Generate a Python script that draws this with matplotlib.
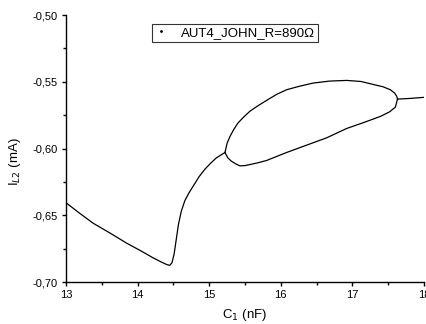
import matplotlib.pyplot as plt
from matplotlib.ticker import MultipleLocator, FuncFormatter

plt.rcParams['font.family'] = ['Liberation Sans', 'DejaVu Sans']

# left branch: 13 nF -> bifurcation at ~15.2 nF
x_left = [13.0, 13.19, 13.38, 13.62, 13.85, 14.04, 14.22, 14.33, 14.41, 14.45, 14.48,
          14.51, 14.54, 14.57, 14.61, 14.66, 14.72, 14.79, 14.86, 14.94, 15.02, 15.10, 15.22]
y_left = [-0.6406, -0.6485, -0.656, -0.6635, -0.671, -0.6765, -0.682, -0.685, -0.687, -0.6875, -0.6855,
          -0.679, -0.668, -0.657, -0.647, -0.639, -0.633, -0.627, -0.621, -0.6155, -0.611, -0.607, -0.603]

# upper branch of the loop
x_up = [15.22, 15.25, 15.29, 15.34, 15.40, 15.48, 15.57, 15.68, 15.80, 15.94, 16.08, 16.25,
        16.45, 16.68, 16.92, 17.12, 17.29, 17.43, 17.53, 17.59, 17.62, 17.63]
y_up = [-0.603, -0.596, -0.591, -0.586, -0.581, -0.5765, -0.572, -0.568, -0.564, -0.5595, -0.556, -0.5535,
        -0.551, -0.5495, -0.549, -0.5498, -0.552, -0.5538, -0.556, -0.5585, -0.561, -0.563]

# lower branch of the loop
x_low = [15.22, 15.26, 15.31, 15.37, 15.43, 15.50, 15.57, 15.68, 15.80, 15.94, 16.08, 16.36,
         16.64, 16.92, 17.16, 17.39, 17.52, 17.60, 17.63]
y_low = [-0.603, -0.607, -0.6095, -0.6115, -0.613, -0.6128, -0.612, -0.6107, -0.609, -0.606, -0.603, -0.5975,
         -0.592, -0.585, -0.5805, -0.576, -0.5725, -0.569, -0.563]

# tail after the loop closes
x_tail = [17.63, 17.80, 17.99]
y_tail = [-0.563, -0.5625, -0.5617]

series_label = "AUT4_JOHN_R=890\u03a9"

fig = plt.figure(figsize=(4.27, 3.24), dpi=100)
ax = fig.add_axes([0.1546, 0.1296, 0.8384, 0.8241])

ax.plot(x_left, y_left, color='black', lw=0.9)
ax.plot(x_up, y_up, color='black', lw=0.9)
ax.plot(x_low, y_low, color='black', lw=0.9)
ax.plot(x_tail, y_tail, color='black', lw=0.9)
ax.plot([], [], ls='none', marker='.', ms=2, color='black', label=series_label)

ax.set_xlim(13, 18)
ax.set_ylim(-0.70, -0.50)
ax.xaxis.set_major_locator(MultipleLocator(1))
ax.xaxis.set_minor_locator(MultipleLocator(0.5))
ax.yaxis.set_major_locator(MultipleLocator(0.05))
ax.yaxis.set_minor_locator(MultipleLocator(0.025))
ax.yaxis.set_major_formatter(FuncFormatter(lambda v, p: f"{v:.2f}".replace('.', ',')))

for s in ['top', 'right']:
    ax.spines[s].set_visible(False)
for s in ['left', 'bottom']:
    ax.spines[s].set_linewidth(1.0)
ax.tick_params(which='major', direction='out', length=3, width=1, labelsize=8, pad=3)
ax.tick_params(which='minor', direction='out', length=2, width=1)

ax.set_xlabel("C$_1$ (nF)", fontsize=9.5)
ax.set_ylabel("I$_{L2}$ (mA)", fontsize=9.5)
ax.xaxis.set_label_coords(0.5, -0.124)
ax.xaxis.label.set_va('center')
ax.yaxis.set_label_coords(-0.142, 0.45)
ax.yaxis.label.set_va('center')

leg = ax.legend(loc='center', bbox_to_anchor=(235 / 427, 1 - 33 / 324),
                bbox_transform=fig.transFigure, fontsize=9.5, frameon=True,
                fancybox=False, handlelength=1.0, borderpad=0.2, handletextpad=1.0)
leg.get_frame().set_edgecolor('black')
leg.get_frame().set_linewidth(0.8)

fig.savefig("out.png", dpi=100)
